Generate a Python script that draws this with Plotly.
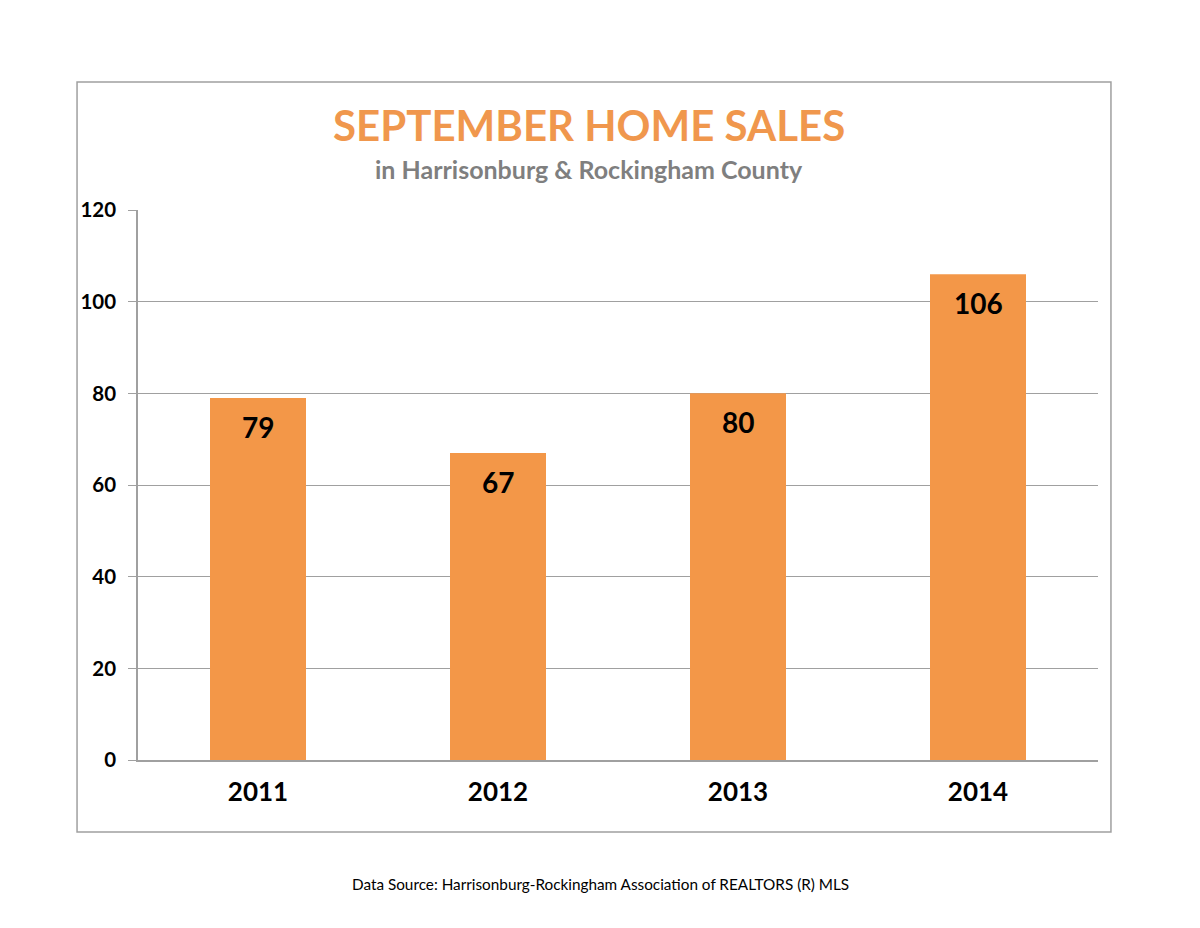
import plotly.graph_objects as go

years = ['2011', '2012', '2013', '2014']
sales = [79, 67, 80, 106]
y_ticks = [0, 20, 40, 60, 80, 100, 120]

title_text = 'SEPTEMBER HOME SALES'
subtitle_text = 'in Harrisonburg & Rockingham County'
source_text = 'Data Source: Harrisonburg-Rockingham Association of REALTORS (R) MLS'

orange = '#F39748'
grid = '#A0A0A0'
font = 'Lato'

fig = go.Figure()
fig.add_trace(go.Bar(x=years, y=sales, width=0.4,
                     marker=dict(color=orange, line=dict(width=0)),
                     hoverinfo='x+y'))

# value labels just under the top of each bar (x given as category index,
# numeric-looking strings would be read as positions)
for i, v in enumerate(sales):
    fig.add_annotation(x=i, y=v, text='<b>%d</b>' % v, showarrow=False,
                       yanchor='middle', yshift=-29,
                       font=dict(family=font, size=28, color='black'))

# title, subtitle and source
fig.add_annotation(xref='paper', yref='paper', x=0.47, y=1.155, text='<b>' + title_text + '</b>',
                   showarrow=False, yanchor='middle',
                   font=dict(family=font, size=42, color='#F0974D'))
fig.add_annotation(xref='paper', yref='paper', x=0.47, y=1.074, text='<b>' + subtitle_text + '</b>',
                   showarrow=False, yanchor='middle',
                   font=dict(family=font, size=25, color='#7F7F7F'))
fig.add_annotation(xref='paper', yref='paper', x=0.482, y=-0.225, text=source_text,
                   showarrow=False, yanchor='middle',
                   font=dict(family=font, size=15.3, color='black'))

# outer frame of the chart
fig.add_shape(type='rect', xref='paper', yref='paper',
              x0=-0.0635, x1=1.0135, y0=-0.1309, y1=1.2327,
              line=dict(color='#A0A0A0', width=1.5), layer='below')

fig.update_layout(
    width=1200, height=928,
    margin=dict(l=130, r=110, t=202, b=176),
    paper_bgcolor='white', plot_bgcolor='white',
    showlegend=False, bargap=0.6,
    font=dict(family=font),
)
fig.update_yaxes(range=[0, 120], tickvals=y_ticks, ticktext=['<b>%d</b>' % t for t in y_ticks],
                 showgrid=True, gridcolor=grid, gridwidth=1,
                 showline=True, linecolor=grid, linewidth=1.5,
                 ticks='outside', ticklen=8, tickcolor=grid, ticklabelstandoff=8,
                 tickfont=dict(family=font, size=20.5, color='black'), zeroline=False)
fig.update_xaxes(type='category', range=[-0.5, 3.5], showline=True, linecolor=grid, linewidth=1.5,
                 showgrid=False, ticktext=['<b>%s</b>' % y for y in years], tickvals=years,
                 tickfont=dict(family=font, size=26, color='black'), ticklabelstandoff=8)

fig.write_html('out.html')
